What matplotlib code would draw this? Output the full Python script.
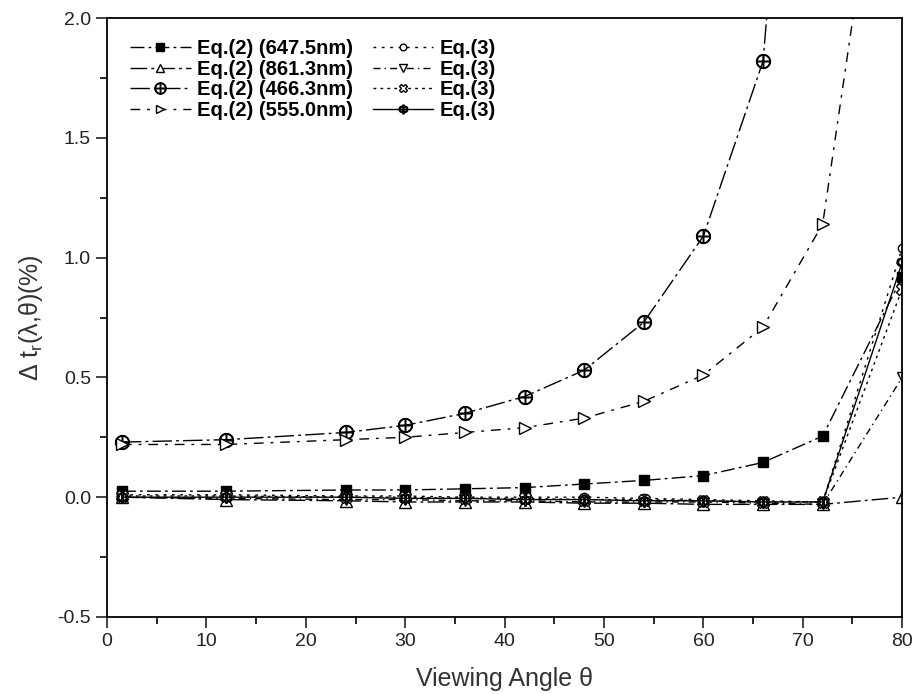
import matplotlib.pyplot as plt
from matplotlib.ticker import MultipleLocator

plt.rcParams['font.family'] = ['Liberation Sans', 'DejaVu Sans']
plt.rcParams['mathtext.fontset'] = 'custom'
plt.rcParams['mathtext.rm'] = 'Liberation Sans'
plt.rcParams['mathtext.it'] = 'Liberation Sans'

# viewing angle (deg)
angle = [1.5, 12, 24, 30, 36, 42, 48, 54, 60, 66, 72, 80]

# Eq.(2) curves
eq2_647 = [0.025, 0.025, 0.03, 0.03, 0.035, 0.04, 0.055, 0.07, 0.09, 0.145, 0.255, 0.92]
eq2_861 = [0.0, -0.01, -0.015, -0.02, -0.02, -0.02, -0.025, -0.025, -0.03, -0.03, -0.03, 0.0]
eq2_466 = [0.23, 0.24, 0.27, 0.30, 0.35, 0.42, 0.53, 0.73, 1.09, 1.82, 4.8, 9.0]
eq2_555 = [0.22, 0.22, 0.24, 0.25, 0.27, 0.29, 0.33, 0.40, 0.51, 0.71, 1.14, 3.4]

# Eq.(3) curves
eq3_647 = [0.01, 0.01, 0.005, 0.005, 0.0, 0.0, 0.0, -0.005, -0.01, -0.015, -0.02, 1.04]
eq3_861 = [0.0, -0.005, -0.01, -0.01, -0.015, -0.015, -0.02, -0.02, -0.02, -0.025, -0.03, 0.50]
eq3_466 = [0.005, 0.005, 0.0, 0.0, -0.005, -0.005, -0.01, -0.01, -0.015, -0.02, -0.02, 0.87]
eq3_555 = [0.0, 0.0, 0.0, -0.005, -0.005, -0.01, -0.01, -0.015, -0.015, -0.02, -0.02, 0.98]

fig = plt.figure(figsize=(9.15, 6.94), dpi=100)
ax = fig.add_axes([0.117, 0.111, 0.869, 0.863])

kw = dict(color='black', lw=1.0, mec='black', mew=1.0)

ax.plot(angle, eq2_647, ls=(0, (10, 3, 2, 3)), marker='s', ms=7, mfc='black',
        label='Eq.(2) (647.5nm)', **kw)
ax.plot(angle, eq2_861, ls=(0, (12, 3, 2, 3)), marker='^', ms=8, mfc='white',
        label='Eq.(2) (861.3nm)', **kw)
ax.plot(angle, eq2_466, ls=(0, (14, 3, 2, 3)), marker=r'$\oplus$', ms=10, mfc='white',
        label='Eq.(2) (466.3nm)', **kw)
ax.plot(angle, eq2_555, ls=(0, (7, 5, 2, 5)), marker='>', ms=8, mfc='white',
        label='Eq.(2) (555.0nm)', **kw)

ax.plot(angle, eq3_647, ls=(0, (2, 4)), marker='o', ms=6, mfc='white',
        label='Eq.(3)', **kw)
ax.plot(angle, eq3_861, ls=(0, (5, 3, 1, 3)), marker='v', ms=7, mfc='white',
        label='Eq.(3)', **kw)
ax.plot(angle, eq3_466, ls=(0, (2, 3)), marker='X', ms=8, mfc='white',
        label='Eq.(3)', **kw)
ax.plot(angle, eq3_555, ls='-', marker=r'$\Phi$', ms=8, mfc='white',
        label='Eq.(3)', **kw)

ax.set_xlim(0, 80)
ax.set_ylim(-0.5, 2.0)
ax.xaxis.set_major_locator(MultipleLocator(10))
ax.xaxis.set_minor_locator(MultipleLocator(5))
ax.yaxis.set_major_locator(MultipleLocator(0.5))
ax.yaxis.set_minor_locator(MultipleLocator(0.25))
ax.tick_params(which='major', direction='out', length=8, width=1.2, labelsize=14, colors='#222222')
ax.tick_params(which='minor', direction='out', length=5, width=1.2)
ax.yaxis.set_major_formatter(plt.FuncFormatter(lambda v, p: f'{v:.1f}'))
for s in ax.spines.values():
    s.set_linewidth(1.3)

ax.set_xlabel('Viewing Angle θ', fontsize=18, color='#333333', labelpad=12)
ax.set_ylabel(r'Δ t$_r$(λ,θ)(%)', fontsize=18, color='#333333', labelpad=9)

ax.legend(ncol=2, loc='upper left', bbox_to_anchor=(0.029, 0.965), frameon=False,
          borderpad=0, borderaxespad=0,
          prop={'weight': 'bold', 'size': 14.5}, handlelength=3.0, handletextpad=0.3,
          columnspacing=1.0, labelspacing=0.08, markerscale=0.8)

fig.savefig('out.png', dpi=100)
